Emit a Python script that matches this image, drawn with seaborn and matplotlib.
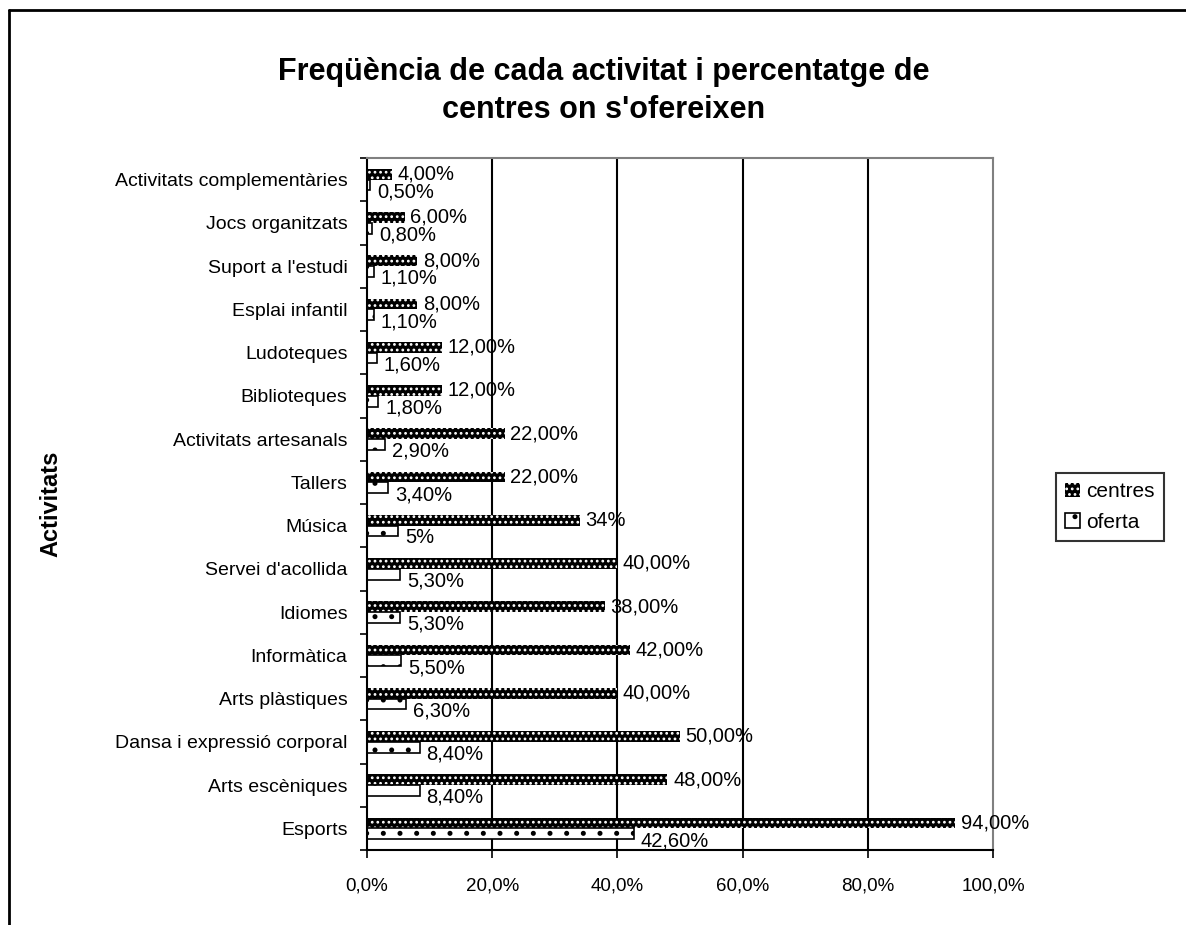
import seaborn as sns
import matplotlib.pyplot as plt
from matplotlib.lines import Line2D
from matplotlib.ticker import FixedLocator, FuncFormatter
import numpy as np
import pandas as pd

activitats = ["Activitats complementàries", "Jocs organitzats", "Suport a l'estudi",
              "Esplai infantil", "Ludoteques", "Biblioteques", "Activitats artesanals",
              "Tallers", "Música", "Servei d'acollida", "Idiomes", "Informàtica",
              "Arts plàstiques", "Dansa i expressió corporal", "Arts escèniques", "Esports"]
centres = [4, 6, 8, 8, 12, 12, 22, 22, 34, 40, 38, 42, 40, 50, 48, 94]
oferta = [0.5, 0.8, 1.1, 1.1, 1.6, 1.8, 2.9, 3.4, 5, 5.3, 5.3, 5.5, 6.3, 8.4, 8.4, 42.6]
etiq_centres = ["4,00%", "6,00%", "8,00%", "8,00%", "12,00%", "12,00%", "22,00%", "22,00%",
                "34%", "40,00%", "38,00%", "42,00%", "40,00%", "50,00%", "48,00%", "94,00%"]
etiq_oferta = ["0,50%", "0,80%", "1,10%", "1,10%", "1,60%", "1,80%", "2,90%", "3,40%",
               "5%", "5,30%", "5,30%", "5,50%", "6,30%", "8,40%", "8,40%", "42,60%"]
series = ["centres", "oferta"]
xticks = [0, 20, 40, 60, 80, 100]

df = pd.DataFrame({
    "activitat": activitats * 2,
    "valor": centres + oferta,
    "serie": [series[0]] * len(activitats) + [series[1]] * len(activitats),
})

sns.set_style("white")
plt.rcParams['font.family'] = ['Liberation Sans', 'DejaVu Sans']
plt.rcParams['hatch.linewidth'] = 1.2
for k in ["text.color", "axes.labelcolor", "xtick.color", "ytick.color"]:
    plt.rcParams[k] = "black"

fig = plt.figure(figsize=(11.86, 9.25), dpi=100)
ax = fig.add_axes([367/1186, 1-850/925, 626/1186, 692/925])

sns.barplot(data=df, y="activitat", x="valor", hue="serie", orient="h",
            width=0.5, legend=False, ax=ax, order=activitats, hue_order=series,
            palette=["black", "white"], saturation=1)

# styling of the two series
for p in ax.containers[0]:
    p.set_facecolor("black")
    p.set_edgecolor("white")
    p.set_hatch("...")
    p.set_linewidth(0)
for p in ax.containers[1]:
    p.set_facecolor("white")
    p.set_edgecolor("black")
    p.set_hatch(".")
    p.set_linewidth(1.2)

ax.bar_label(ax.containers[0], labels=etiq_centres, padding=4, fontsize=14.5)
anns = ax.bar_label(ax.containers[1], labels=etiq_oferta, padding=4, fontsize=14.5)
# oferta labels sit a bit lower, like in the original
for a in anns:
    a.xyann = (5, -5)

ax.set_xlim(0, 100)
ax.set_ylim(len(activitats) - 0.5, -0.5)
ax.xaxis.set_major_locator(FixedLocator(xticks))
ax.xaxis.set_major_formatter(FuncFormatter(lambda v, pos: f"{v:.1f}%".replace(".", ",")))
ax.tick_params(axis="x", bottom=True, direction="out", length=6, width=1.2, pad=14,
               labelsize=13.5)
ax.tick_params(axis="y", which="major", left=False, length=0, pad=14, labelsize=14)
ax.yaxis.set_minor_locator(FixedLocator(np.arange(-0.5, len(activitats), 1)))
ax.tick_params(axis="y", which="minor", left=True, direction="out", length=5, width=1.2)

ax.grid(False)
for v in xticks[1:-1]:
    ax.axvline(v, color="black", lw=1.5, zorder=0)

ax.set_xlabel("")
ax.set_ylabel("Activitats", fontsize=17, fontweight="bold")
ax.yaxis.set_label_coords((62 - 367) / 626, 0.5)

for s in ["left", "bottom"]:
    ax.spines[s].set_color("black")
    ax.spines[s].set_linewidth(1.5)
for s in ["top", "right"]:
    ax.spines[s].set_color("#808080")
    ax.spines[s].set_linewidth(1.5)

fig.text(604/1186, 1-91/925, "Freqüència de cada activitat i percentatge de\ncentres on s'ofereixen",
         ha="center", va="center", fontsize=22, fontweight="bold", linespacing=1.35)

leg = fig.legend(ax.containers, series, loc="upper left", bbox_to_anchor=(1056/1186, 1-473/925),
                 frameon=True, fancybox=False, fontsize=15, handlelength=0.7, handleheight=0.7,
                 handletextpad=0.3, borderaxespad=0, borderpad=0.45, labelspacing=0.55)
leg.get_frame().set_edgecolor("black")
leg.get_frame().set_linewidth(1.5)

# outer chart border (top and left, the rest is cut off)
fig.add_artist(Line2D([9/1186, 1], [1-10/925, 1-10/925], color="black", lw=2,
                      transform=fig.transFigure))
fig.add_artist(Line2D([9/1186, 9/1186], [0, 1-10/925], color="black", lw=2,
                      transform=fig.transFigure))

fig.savefig("out.png", dpi=100)
